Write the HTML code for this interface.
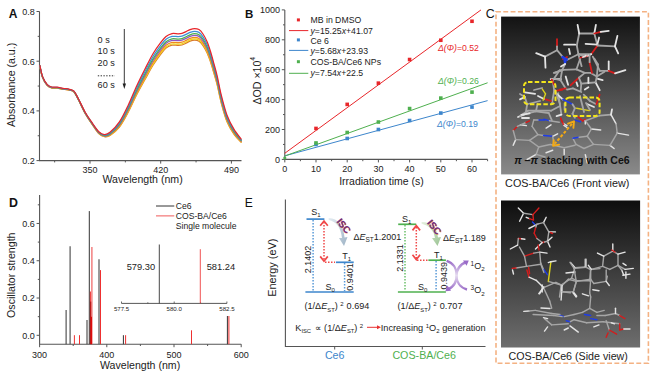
<!DOCTYPE html>
<html><head><meta charset="utf-8"><style>
html,body{margin:0;padding:0;background:#fff;width:656px;height:377px;overflow:hidden}
svg{display:block;font-family:"Liberation Sans", sans-serif}
</style></head><body>
<svg width="656" height="377" viewBox="0 0 656 377">
<rect width="656" height="377" fill="#fff"/>
<text x="8.8" y="17.8" font-size="12" text-anchor="start" fill="#111" font-weight="bold" >A</text>
<path d="M39.5,11.5 V160.6 H241.5" fill="none" stroke="#555" stroke-width="1.1"/>
<line x1="36.5" y1="160.60" x2="39.5" y2="160.60" stroke="#555" stroke-width="1"/>
<text x="34.8" y="163.9" font-size="9" text-anchor="end" fill="#222" font-weight="normal" >0.2</text>
<line x1="36.5" y1="110.90" x2="39.5" y2="110.90" stroke="#555" stroke-width="1"/>
<text x="34.8" y="114.19999999999999" font-size="9" text-anchor="end" fill="#222" font-weight="normal" >0.4</text>
<line x1="36.5" y1="61.20" x2="39.5" y2="61.20" stroke="#555" stroke-width="1"/>
<text x="34.8" y="64.5" font-size="9" text-anchor="end" fill="#222" font-weight="normal" >0.6</text>
<line x1="36.5" y1="11.50" x2="39.5" y2="11.50" stroke="#555" stroke-width="1"/>
<text x="34.8" y="14.799999999999972" font-size="9" text-anchor="end" fill="#222" font-weight="normal" >0.8</text>
<line x1="37.7" y1="135.75" x2="39.5" y2="135.75" stroke="#555" stroke-width="1"/>
<line x1="37.7" y1="86.05" x2="39.5" y2="86.05" stroke="#555" stroke-width="1"/>
<line x1="37.7" y1="36.35" x2="39.5" y2="36.35" stroke="#555" stroke-width="1"/>
<line x1="90.00" y1="160.6" x2="90.00" y2="163.6" stroke="#555" stroke-width="1"/>
<text x="90.0" y="173.3" font-size="9" text-anchor="middle" fill="#222" font-weight="normal" >350</text>
<line x1="160.70" y1="160.6" x2="160.70" y2="163.6" stroke="#555" stroke-width="1"/>
<text x="160.7" y="173.3" font-size="9" text-anchor="middle" fill="#222" font-weight="normal" >420</text>
<line x1="231.40" y1="160.6" x2="231.40" y2="163.6" stroke="#555" stroke-width="1"/>
<text x="231.4" y="173.3" font-size="9" text-anchor="middle" fill="#222" font-weight="normal" >490</text>
<line x1="54.65" y1="160.6" x2="54.65" y2="162.4" stroke="#555" stroke-width="1"/>
<line x1="125.35" y1="160.6" x2="125.35" y2="162.4" stroke="#555" stroke-width="1"/>
<line x1="196.05" y1="160.6" x2="196.05" y2="162.4" stroke="#555" stroke-width="1"/>
<text x="142.6" y="183.3" font-size="10.6" text-anchor="middle" fill="#222" font-weight="normal" >Wavelength (nm)</text>
<text x="0" y="0" font-size="10.6" text-anchor="middle" fill="#222" font-weight="normal" transform="translate(14.6,84.9) rotate(-90)">Absorbance (a.u.)</text>
<path d="M39.80,66.02 C40.25,67.90 41.30,74.12 42.50,77.32 C43.70,80.52 45.50,83.45 47.00,85.22 C48.50,86.98 49.82,87.43 51.50,87.92 C53.18,88.40 55.22,87.88 57.10,88.12 C58.98,88.35 61.32,89.08 62.80,89.32 C64.28,89.55 64.88,89.37 66.00,89.52 C67.12,89.66 68.17,89.80 69.50,90.22 C70.83,90.63 72.50,90.40 74.00,92.02 C75.50,93.63 76.62,96.31 78.50,99.92 C80.38,103.52 83.05,109.64 85.30,113.67 C87.55,117.70 89.75,120.79 92.00,124.10 C94.25,127.41 96.73,131.43 98.80,133.53 C100.87,135.63 102.53,136.38 104.40,136.71 C106.27,137.03 107.50,137.09 110.00,135.49 C112.50,133.88 116.37,130.94 119.40,127.06 C122.43,123.18 125.30,117.63 128.20,112.21 C131.10,106.79 134.00,99.96 136.80,94.52 C139.60,89.07 142.30,84.41 145.00,79.54 C147.70,74.67 150.37,69.53 153.00,65.29 C155.63,61.05 158.63,56.96 160.80,54.09 C162.97,51.22 164.13,49.57 166.00,48.09 C167.87,46.61 170.00,45.64 172.00,45.19 C174.00,44.74 176.33,45.42 178.00,45.39 C179.67,45.36 180.67,45.36 182.00,44.99 C183.33,44.62 184.67,43.82 186.00,43.19 C187.33,42.56 188.58,41.71 190.00,41.19 C191.42,40.67 193.00,40.09 194.50,40.09 C196.00,40.09 197.58,40.27 199.00,41.19 C200.42,42.11 201.67,43.68 203.00,45.59 C204.33,47.50 205.75,49.92 207.00,52.63 C208.25,55.33 209.33,58.34 210.50,61.82 C211.67,65.30 212.88,69.65 214.00,73.51 C215.12,77.37 215.97,79.98 217.20,84.97 C218.43,89.97 219.77,97.38 221.40,103.50 C223.03,109.63 224.92,116.63 227.00,121.71 C229.08,126.80 231.48,130.53 233.90,134.02 C236.32,137.51 240.23,141.22 241.50,142.67" fill="none" stroke="#d9782a" stroke-width="1.25"/>
<path d="M39.80,65.92 C40.25,67.80 41.30,74.02 42.50,77.22 C43.70,80.42 45.50,83.35 47.00,85.12 C48.50,86.89 49.82,87.34 51.50,87.82 C53.18,88.30 55.22,87.79 57.10,88.02 C58.98,88.25 61.32,88.99 62.80,89.22 C64.28,89.45 64.88,89.27 66.00,89.42 C67.12,89.57 68.17,89.70 69.50,90.12 C70.83,90.54 72.50,90.30 74.00,91.92 C75.50,93.54 76.62,96.22 78.50,99.82 C80.38,103.43 83.05,109.53 85.30,113.55 C87.55,117.57 89.75,120.65 92.00,123.95 C94.25,127.24 96.73,131.25 98.80,133.34 C100.87,135.43 102.53,136.19 104.40,136.49 C106.27,136.79 107.50,136.82 110.00,135.16 C112.50,133.50 116.37,130.47 119.40,126.53 C122.43,122.58 125.30,116.97 128.20,111.49 C131.10,106.00 134.00,99.11 136.80,93.61 C139.60,88.10 142.30,83.37 145.00,78.45 C147.70,73.53 150.37,68.35 153.00,64.09 C155.63,59.83 158.63,55.76 160.80,52.89 C162.97,50.03 164.13,48.38 166.00,46.89 C167.87,45.41 170.00,44.44 172.00,43.99 C174.00,43.54 176.33,44.23 178.00,44.19 C179.67,44.16 180.67,44.16 182.00,43.79 C183.33,43.43 184.67,42.63 186.00,41.99 C187.33,41.36 188.58,40.51 190.00,39.99 C191.42,39.48 193.00,38.89 194.50,38.89 C196.00,38.89 197.58,39.08 199.00,39.99 C200.42,40.91 201.67,42.48 203.00,44.39 C204.33,46.31 205.75,48.75 207.00,51.48 C208.25,54.21 209.33,57.25 210.50,60.75 C211.67,64.26 212.88,68.64 214.00,72.53 C215.12,76.42 215.97,79.04 217.20,84.07 C218.43,89.10 219.77,96.54 221.40,102.70 C223.03,108.86 224.92,115.90 227.00,121.04 C229.08,126.18 231.48,129.96 233.90,133.51 C236.32,137.06 240.23,140.87 241.50,142.34" fill="none" stroke="#f2d21a" stroke-width="1.25"/>
<path d="M39.80,65.79 C40.25,67.68 41.30,73.89 42.50,77.09 C43.70,80.29 45.50,83.23 47.00,84.99 C48.50,86.76 49.82,87.21 51.50,87.69 C53.18,88.18 55.22,87.66 57.10,87.89 C58.98,88.13 61.32,88.86 62.80,89.09 C64.28,89.33 64.88,89.14 66.00,89.29 C67.12,89.44 68.17,89.58 69.50,89.99 C70.83,90.41 72.50,90.18 74.00,91.79 C75.50,93.41 76.62,96.10 78.50,99.69 C80.38,103.29 83.05,109.38 85.30,113.39 C87.55,117.40 89.75,120.46 92.00,123.74 C94.25,127.02 96.73,131.01 98.80,133.09 C100.87,135.17 102.53,135.93 104.40,136.20 C106.27,136.47 107.50,136.45 110.00,134.72 C112.50,132.99 116.37,129.85 119.40,125.82 C122.43,121.78 125.30,116.09 128.20,110.52 C131.10,104.95 134.00,97.98 136.80,92.39 C139.60,86.81 142.30,81.98 145.00,77.00 C147.70,72.02 150.37,66.78 153.00,62.50 C155.63,58.21 158.63,54.16 160.80,51.30 C162.97,48.43 164.13,46.78 166.00,45.30 C167.87,43.81 170.00,42.85 172.00,42.40 C174.00,41.95 176.33,42.63 178.00,42.60 C179.67,42.56 180.67,42.56 182.00,42.20 C183.33,41.83 184.67,41.03 186.00,40.40 C187.33,39.76 188.58,38.91 190.00,38.40 C191.42,37.88 193.00,37.30 194.50,37.30 C196.00,37.30 197.58,37.48 199.00,38.40 C200.42,39.31 201.67,40.87 203.00,42.80 C204.33,44.72 205.75,47.19 207.00,49.95 C208.25,52.70 209.33,55.79 210.50,59.33 C211.67,62.88 212.88,67.30 214.00,71.22 C215.12,75.14 215.97,77.79 217.20,82.86 C218.43,87.93 219.77,95.41 221.40,101.62 C223.03,107.84 224.92,114.94 227.00,120.14 C229.08,125.34 231.48,129.21 233.90,132.83 C236.32,136.46 240.23,140.39 241.50,141.90" fill="none" stroke="#f08a1c" stroke-width="1.25"/>
<path d="M39.80,65.64 C40.25,67.52 41.30,73.74 42.50,76.94 C43.70,80.14 45.50,83.07 47.00,84.84 C48.50,86.60 49.82,87.05 51.50,87.54 C53.18,88.02 55.22,87.50 57.10,87.74 C58.98,87.97 61.32,88.70 62.80,88.94 C64.28,89.17 64.88,88.99 66.00,89.14 C67.12,89.29 68.17,89.42 69.50,89.84 C70.83,90.25 72.50,90.02 74.00,91.64 C75.50,93.25 76.62,95.95 78.50,99.54 C80.38,103.13 83.05,109.20 85.30,113.19 C87.55,117.18 89.75,120.22 92.00,123.48 C94.25,126.75 96.73,130.72 98.80,132.78 C100.87,134.83 102.53,135.60 104.40,135.84 C106.27,136.07 107.50,135.99 110.00,134.17 C112.50,132.35 116.37,129.07 119.40,124.93 C122.43,120.79 125.30,114.99 128.20,109.31 C131.10,103.64 134.00,96.56 136.80,90.87 C139.60,85.19 142.30,80.25 145.00,75.19 C147.70,70.12 150.37,64.82 153.00,60.50 C155.63,56.19 158.63,52.17 160.80,49.30 C162.97,46.44 164.13,44.79 166.00,43.30 C167.87,41.82 170.00,40.85 172.00,40.40 C174.00,39.95 176.33,40.64 178.00,40.60 C179.67,40.57 180.67,40.57 182.00,40.20 C183.33,39.84 184.67,39.04 186.00,38.40 C187.33,37.77 188.58,36.92 190.00,36.40 C191.42,35.89 193.00,35.30 194.50,35.30 C196.00,35.30 197.58,35.49 199.00,36.40 C200.42,37.32 201.67,38.86 203.00,40.80 C204.33,42.74 205.75,45.24 207.00,48.03 C208.25,50.82 209.33,53.97 210.50,57.56 C211.67,61.15 212.88,65.62 214.00,69.58 C215.12,73.55 215.97,76.23 217.20,81.35 C218.43,86.47 219.77,94.00 221.40,100.28 C223.03,106.56 224.92,113.74 227.00,119.02 C229.08,124.31 231.48,128.26 233.90,131.99 C236.32,135.71 240.23,139.80 241.50,141.36" fill="none" stroke="#9057c0" stroke-width="1.25"/>
<path d="M39.80,65.51 C40.25,67.39 41.30,73.61 42.50,76.81 C43.70,80.01 45.50,82.94 47.00,84.71 C48.50,86.48 49.82,86.93 51.50,87.41 C53.18,87.89 55.22,87.38 57.10,87.61 C58.98,87.84 61.32,88.58 62.80,88.81 C64.28,89.04 64.88,88.86 66.00,89.01 C67.12,89.16 68.17,89.29 69.50,89.71 C70.83,90.13 72.50,89.89 74.00,91.51 C75.50,93.13 76.62,95.82 78.50,99.41 C80.38,103.00 83.05,109.05 85.30,113.03 C87.55,117.00 89.75,120.02 92.00,123.27 C94.25,126.52 96.73,130.48 98.80,132.52 C100.87,134.57 102.53,135.34 104.40,135.55 C106.27,135.75 107.50,135.62 110.00,133.73 C112.50,131.84 116.37,128.45 119.40,124.22 C122.43,119.99 125.30,114.11 128.20,108.35 C131.10,102.59 134.00,95.43 136.80,89.66 C139.60,83.89 142.30,78.86 145.00,73.73 C147.70,68.61 150.37,63.24 153.00,58.91 C155.63,54.57 158.63,50.57 160.80,47.71 C162.97,44.84 164.13,43.19 166.00,41.71 C167.87,40.22 170.00,39.26 172.00,38.81 C174.00,38.36 176.33,39.04 178.00,39.01 C179.67,38.97 180.67,38.97 182.00,38.61 C183.33,38.24 184.67,37.44 186.00,36.81 C187.33,36.17 188.58,35.32 190.00,34.81 C191.42,34.29 193.00,33.71 194.50,33.71 C196.00,33.71 197.58,33.89 199.00,34.81 C200.42,35.72 201.67,37.26 203.00,39.21 C204.33,41.15 205.75,43.68 207.00,46.50 C208.25,49.32 209.33,52.51 210.50,56.14 C211.67,59.76 212.88,64.27 214.00,68.27 C215.12,72.27 215.97,74.99 217.20,80.14 C218.43,85.30 219.77,92.88 221.40,99.21 C223.03,105.54 224.92,112.77 227.00,118.13 C229.08,123.48 231.48,127.51 233.90,131.31 C236.32,135.11 240.23,139.32 241.50,140.92" fill="none" stroke="#4fb04f" stroke-width="1.25"/>
<path d="M39.80,65.32 C40.25,67.20 41.30,73.42 42.50,76.62 C43.70,79.82 45.50,82.75 47.00,84.52 C48.50,86.29 49.82,86.74 51.50,87.22 C53.18,87.70 55.22,87.19 57.10,87.42 C58.98,87.65 61.32,88.39 62.80,88.62 C64.28,88.85 64.88,88.67 66.00,88.82 C67.12,88.97 68.17,89.10 69.50,89.52 C70.83,89.94 72.50,89.70 74.00,91.32 C75.50,92.94 76.62,95.64 78.50,99.22 C80.38,102.80 83.05,108.83 85.30,112.78 C87.55,116.74 89.75,119.74 92.00,122.96 C94.25,126.19 96.73,130.12 98.80,132.14 C100.87,134.17 102.53,134.95 104.40,135.11 C106.27,135.26 107.50,135.06 110.00,133.07 C112.50,131.07 116.37,127.51 119.40,123.14 C122.43,118.78 125.30,112.78 128.20,106.89 C131.10,101.00 134.00,93.72 136.80,87.82 C139.60,81.93 142.30,76.76 145.00,71.54 C147.70,66.32 150.37,60.87 153.00,56.49 C155.63,52.12 158.63,48.16 160.80,45.29 C162.97,42.43 164.13,40.78 166.00,39.29 C167.87,37.81 170.00,36.84 172.00,36.39 C174.00,35.94 176.33,36.63 178.00,36.59 C179.67,36.56 180.67,36.56 182.00,36.19 C183.33,35.83 184.67,35.03 186.00,34.39 C187.33,33.76 188.58,32.91 190.00,32.39 C191.42,31.88 193.00,31.29 194.50,31.29 C196.00,31.29 197.58,31.48 199.00,32.39 C200.42,33.31 201.67,34.83 203.00,36.79 C204.33,38.76 205.75,41.32 207.00,44.18 C208.25,47.05 209.33,50.30 210.50,53.99 C211.67,57.67 212.88,62.24 214.00,66.29 C215.12,70.35 215.97,73.10 217.20,78.31 C218.43,83.53 219.77,91.17 221.40,97.58 C223.03,103.99 224.92,111.32 227.00,116.77 C229.08,122.22 231.48,126.37 233.90,130.29 C236.32,134.20 240.23,138.60 241.50,140.26" fill="none" stroke="#3d8fd6" stroke-width="1.25"/>
<path d="M39.80,65.10 C40.25,66.98 41.30,73.20 42.50,76.40 C43.70,79.60 45.50,82.53 47.00,84.30 C48.50,86.07 49.82,86.52 51.50,87.00 C53.18,87.48 55.22,86.97 57.10,87.20 C58.98,87.43 61.32,88.17 62.80,88.40 C64.28,88.63 64.88,88.45 66.00,88.60 C67.12,88.75 68.17,88.88 69.50,89.30 C70.83,89.72 72.50,89.48 74.00,91.10 C75.50,92.72 76.62,95.43 78.50,99.00 C80.38,102.57 83.05,108.57 85.30,112.50 C87.55,116.43 89.75,119.40 92.00,122.60 C94.25,125.80 96.73,129.70 98.80,131.70 C100.87,133.70 102.53,134.50 104.40,134.60 C106.27,134.70 107.50,134.42 110.00,132.30 C112.50,130.18 116.37,126.42 119.40,121.90 C122.43,117.38 125.30,111.23 128.20,105.20 C131.10,99.17 134.00,91.73 136.80,85.70 C139.60,79.67 142.30,74.33 145.00,69.00 C147.70,63.67 150.37,58.12 153.00,53.70 C155.63,49.28 158.63,45.37 160.80,42.50 C162.97,39.63 164.13,37.98 166.00,36.50 C167.87,35.02 170.00,34.05 172.00,33.60 C174.00,33.15 176.33,33.83 178.00,33.80 C179.67,33.77 180.67,33.77 182.00,33.40 C183.33,33.03 184.67,32.23 186.00,31.60 C187.33,30.97 188.58,30.12 190.00,29.60 C191.42,29.08 193.00,28.50 194.50,28.50 C196.00,28.50 197.58,28.68 199.00,29.60 C200.42,30.52 201.67,32.02 203.00,34.00 C204.33,35.98 205.75,38.58 207.00,41.50 C208.25,44.42 209.33,47.75 210.50,51.50 C211.67,55.25 212.88,59.88 214.00,64.00 C215.12,68.12 215.97,70.92 217.20,76.20 C218.43,81.48 219.77,89.20 221.40,95.70 C223.03,102.20 224.92,109.63 227.00,115.20 C229.08,120.77 231.48,125.05 233.90,129.10 C236.32,133.15 240.23,137.77 241.50,139.50" fill="none" stroke="#e8262a" stroke-width="1.25"/>
<text x="97.6" y="42.599999999999994" font-size="9.1" text-anchor="start" fill="#222" font-weight="normal" >0 s</text>
<text x="97.6" y="54.199999999999996" font-size="9.1" text-anchor="start" fill="#222" font-weight="normal" >10 s</text>
<text x="97.6" y="65.5" font-size="9.1" text-anchor="start" fill="#222" font-weight="normal" >20 s</text>
<text x="97.6" y="88.0" font-size="9.1" text-anchor="start" fill="#222" font-weight="normal" >60 s</text>
<line x1="97.8" y1="75.8" x2="114.8" y2="75.8" stroke="#333" stroke-width="1" stroke-dasharray="1.4,1.4"/>
<line x1="124.3" y1="29" x2="124.3" y2="84" stroke="#222" stroke-width="0.9"/>
<path d="M122.6,83.5 L124.3,89 L126,83.5 Z" fill="#222"/>
<text x="245" y="17.8" font-size="11.5" text-anchor="start" fill="#111" font-weight="bold" >B</text>
<path d="M284.8,9.9 V159.4 H487.60" fill="none" stroke="#555" stroke-width="1.1"/>
<line x1="281.8" y1="159.40" x2="284.8" y2="159.40" stroke="#555" stroke-width="1"/>
<text x="280" y="162.70000000000002" font-size="9" text-anchor="end" fill="#222" font-weight="normal" >0</text>
<line x1="281.8" y1="129.50" x2="284.8" y2="129.50" stroke="#555" stroke-width="1"/>
<text x="280" y="132.8" font-size="9" text-anchor="end" fill="#222" font-weight="normal" >200</text>
<line x1="281.8" y1="99.60" x2="284.8" y2="99.60" stroke="#555" stroke-width="1"/>
<text x="280" y="102.9" font-size="9" text-anchor="end" fill="#222" font-weight="normal" >400</text>
<line x1="281.8" y1="69.70" x2="284.8" y2="69.70" stroke="#555" stroke-width="1"/>
<text x="280" y="73.0" font-size="9" text-anchor="end" fill="#222" font-weight="normal" >600</text>
<line x1="281.8" y1="39.80" x2="284.8" y2="39.80" stroke="#555" stroke-width="1"/>
<text x="280" y="43.10000000000001" font-size="9" text-anchor="end" fill="#222" font-weight="normal" >800</text>
<line x1="281.8" y1="9.90" x2="284.8" y2="9.90" stroke="#555" stroke-width="1"/>
<text x="280" y="13.200000000000006" font-size="9" text-anchor="end" fill="#222" font-weight="normal" >1000</text>
<line x1="283.0" y1="144.45" x2="284.8" y2="144.45" stroke="#555" stroke-width="1"/>
<line x1="283.0" y1="114.55" x2="284.8" y2="114.55" stroke="#555" stroke-width="1"/>
<line x1="283.0" y1="84.65" x2="284.8" y2="84.65" stroke="#555" stroke-width="1"/>
<line x1="283.0" y1="54.75" x2="284.8" y2="54.75" stroke="#555" stroke-width="1"/>
<line x1="283.0" y1="24.85" x2="284.8" y2="24.85" stroke="#555" stroke-width="1"/>
<line x1="284.80" y1="159.4" x2="284.80" y2="162.4" stroke="#555" stroke-width="1"/>
<text x="284.8" y="171.5" font-size="9" text-anchor="middle" fill="#222" font-weight="normal" >0</text>
<line x1="316.00" y1="159.4" x2="316.00" y2="162.4" stroke="#555" stroke-width="1"/>
<text x="316.0" y="171.5" font-size="9" text-anchor="middle" fill="#222" font-weight="normal" >10</text>
<line x1="347.20" y1="159.4" x2="347.20" y2="162.4" stroke="#555" stroke-width="1"/>
<text x="347.20000000000005" y="171.5" font-size="9" text-anchor="middle" fill="#222" font-weight="normal" >20</text>
<line x1="378.40" y1="159.4" x2="378.40" y2="162.4" stroke="#555" stroke-width="1"/>
<text x="378.40000000000003" y="171.5" font-size="9" text-anchor="middle" fill="#222" font-weight="normal" >30</text>
<line x1="409.60" y1="159.4" x2="409.60" y2="162.4" stroke="#555" stroke-width="1"/>
<text x="409.6" y="171.5" font-size="9" text-anchor="middle" fill="#222" font-weight="normal" >40</text>
<line x1="440.80" y1="159.4" x2="440.80" y2="162.4" stroke="#555" stroke-width="1"/>
<text x="440.8" y="171.5" font-size="9" text-anchor="middle" fill="#222" font-weight="normal" >50</text>
<line x1="472.00" y1="159.4" x2="472.00" y2="162.4" stroke="#555" stroke-width="1"/>
<text x="472.0" y="171.5" font-size="9" text-anchor="middle" fill="#222" font-weight="normal" >60</text>
<line x1="300.40" y1="159.4" x2="300.40" y2="161.20000000000002" stroke="#555" stroke-width="1"/>
<line x1="331.60" y1="159.4" x2="331.60" y2="161.20000000000002" stroke="#555" stroke-width="1"/>
<line x1="362.80" y1="159.4" x2="362.80" y2="161.20000000000002" stroke="#555" stroke-width="1"/>
<line x1="394.00" y1="159.4" x2="394.00" y2="161.20000000000002" stroke="#555" stroke-width="1"/>
<line x1="425.20" y1="159.4" x2="425.20" y2="161.20000000000002" stroke="#555" stroke-width="1"/>
<line x1="456.40" y1="159.4" x2="456.40" y2="161.20000000000002" stroke="#555" stroke-width="1"/>
<line x1="487.60" y1="159.4" x2="487.60" y2="161.20000000000002" stroke="#555" stroke-width="1"/>
<text x="381.5" y="184.6" font-size="10.5" text-anchor="middle" fill="#222" font-weight="normal" >Irradiation time (s)</text>
<text x="0" y="0" font-size="10.6" text-anchor="middle" fill="#222" font-weight="normal" transform="translate(260.5,80.7) rotate(-90)">ΔOD ×10<tspan font-size="6.8" dy="-5.5">4</tspan></text>
<line x1="284.80" y1="153.26" x2="480.99" y2="9.90" stroke="#e8262a" stroke-width="1"/>
<line x1="284.80" y1="155.82" x2="487.60" y2="100.63" stroke="#3d86cc" stroke-width="1"/>
<line x1="284.80" y1="156.04" x2="487.60" y2="82.77" stroke="#4fb04f" stroke-width="1"/>
<rect x="314.20" y="142.65" width="3.6" height="3.6" fill="#3d86cc"/>
<rect x="345.40" y="136.67" width="3.6" height="3.6" fill="#3d86cc"/>
<rect x="376.60" y="127.70" width="3.6" height="3.6" fill="#3d86cc"/>
<rect x="407.80" y="118.73" width="3.6" height="3.6" fill="#3d86cc"/>
<rect x="439.00" y="111.26" width="3.6" height="3.6" fill="#3d86cc"/>
<rect x="470.20" y="105.28" width="3.6" height="3.6" fill="#3d86cc"/>
<rect x="283.40" y="156.80" width="2.8" height="2.6" fill="#4fb04f"/>
<rect x="314.20" y="141.16" width="3.6" height="3.6" fill="#4fb04f"/>
<rect x="345.40" y="130.69" width="3.6" height="3.6" fill="#4fb04f"/>
<rect x="376.60" y="120.23" width="3.6" height="3.6" fill="#4fb04f"/>
<rect x="407.80" y="106.77" width="3.6" height="3.6" fill="#4fb04f"/>
<rect x="439.00" y="96.31" width="3.6" height="3.6" fill="#4fb04f"/>
<rect x="470.20" y="90.33" width="3.6" height="3.6" fill="#4fb04f"/>
<rect x="314.20" y="126.65" width="3.6" height="3.6" fill="#e8262a"/>
<rect x="345.40" y="102.58" width="3.6" height="3.6" fill="#e8262a"/>
<rect x="376.60" y="81.36" width="3.6" height="3.6" fill="#e8262a"/>
<rect x="407.80" y="57.73" width="3.6" height="3.6" fill="#e8262a"/>
<rect x="439.00" y="38.45" width="3.6" height="3.6" fill="#e8262a"/>
<rect x="470.20" y="19.46" width="3.6" height="3.6" fill="#e8262a"/>
<rect x="296.9" y="18.4" width="3" height="3" fill="#e8262a"/>
<rect x="296.9" y="38.4" width="3" height="3" fill="#3d86cc"/>
<rect x="296.9" y="60.2" width="3" height="3" fill="#4fb04f"/>
<line x1="289" y1="30.6" x2="308.3" y2="30.6" stroke="#e8262a" stroke-width="1"/>
<line x1="289" y1="50.4" x2="308.3" y2="50.4" stroke="#3d86cc" stroke-width="1"/>
<line x1="289" y1="73.3" x2="308.3" y2="73.3" stroke="#4fb04f" stroke-width="1"/>
<text x="310.5" y="23.2" font-size="8.7" text-anchor="start" fill="#222" font-weight="normal" >MB in DMSO</text>
<text x="310.5" y="34.0" font-size="8.7" text-anchor="start" fill="#222" font-weight="normal" ><tspan font-style="italic">y</tspan>=15.25<tspan font-style="italic">x</tspan>+41.07</text>
<text x="310.5" y="43.5" font-size="8.7" text-anchor="start" fill="#222" font-weight="normal" >Ce 6</text>
<text x="310.5" y="53.7" font-size="8.7" text-anchor="start" fill="#222" font-weight="normal" ><tspan font-style="italic">y</tspan>=5.68<tspan font-style="italic">x</tspan>+23.93</text>
<text x="310.5" y="65.0" font-size="8.7" text-anchor="start" fill="#222" font-weight="normal" >COS-BA/Ce6 NPs</text>
<text x="310.5" y="76.3" font-size="8.7" text-anchor="start" fill="#222" font-weight="normal" ><tspan font-style="italic">y</tspan>=7.54<tspan font-style="italic">x</tspan>+22.5</text>
<text x="438" y="51.2" font-size="8.7" text-anchor="start" fill="#e8262a" font-weight="normal" ><tspan font-style="italic">Δ(Φ)</tspan>=0.52</text>
<text x="438" y="83.9" font-size="8.7" text-anchor="start" fill="#4fb04f" font-weight="normal" ><tspan font-style="italic">Δ(Φ)</tspan>=0.26</text>
<text x="437" y="126.5" font-size="8.7" text-anchor="start" fill="#3d86cc" font-weight="normal" ><tspan font-style="italic">Δ(Φ)</tspan>=0.19</text>
<text x="485.8" y="18.4" font-size="12.4" text-anchor="start" fill="#111" font-weight="normal" >C</text>
<rect x="496" y="11.8" width="152.4" height="351.4" fill="none" stroke="#f4b283" stroke-width="1.6" stroke-dasharray="4.9,2.4"/>
<defs><linearGradient id="gC" x1="0" y1="0" x2="0" y2="1"><stop offset="0" stop-color="#131313"/><stop offset="1" stop-color="#8a8a8a"/></linearGradient><linearGradient id="gS" x1="0" y1="0" x2="0" y2="1"><stop offset="0" stop-color="#0e0e0e"/><stop offset="1" stop-color="#6e6e6e"/></linearGradient></defs>
<rect x="501.1" y="16.6" width="138.8" height="157.8" fill="url(#gC)"/>
<rect x="501" y="200.5" width="139.1" height="147" fill="url(#gS)"/>
<line x1="553.8" y1="72.9" x2="563.1" y2="69.8" stroke="#a6a6a6" stroke-width="1.8" stroke-linecap="round"/>
<line x1="550.7" y1="79.1" x2="561" y2="79.1" stroke="#e4e4e4" stroke-width="1.8" stroke-linecap="round"/>
<line x1="563" y1="59" x2="567" y2="57" stroke="#d41c1c" stroke-width="1.8" stroke-linecap="round"/>
<line x1="552.6" y1="79.6" x2="554.2" y2="90.7" stroke="#a6a6a6" stroke-width="1.8" stroke-linecap="round"/>
<line x1="554.2" y1="90.7" x2="551.8" y2="104.2" stroke="#a6a6a6" stroke-width="1.8" stroke-linecap="round"/>
<line x1="558.2" y1="93.1" x2="561.4" y2="114.6" stroke="#a6a6a6" stroke-width="1.8" stroke-linecap="round"/>
<line x1="561.4" y1="114.6" x2="556.6" y2="116.2" stroke="#e4e4e4" stroke-width="1.8" stroke-linecap="round"/>
<line x1="564.6" y1="103.4" x2="564.6" y2="109.8" stroke="#a6a6a6" stroke-width="1.8" stroke-linecap="round"/>
<line x1="534" y1="90" x2="542" y2="88" stroke="#a6a6a6" stroke-width="1.8" stroke-linecap="round"/>
<line x1="538" y1="96" x2="544" y2="99" stroke="#e4e4e4" stroke-width="1.8" stroke-linecap="round"/>
<line x1="528" y1="104" x2="540" y2="101" stroke="#a6a6a6" stroke-width="1.8" stroke-linecap="round"/>
<line x1="587" y1="104" x2="594" y2="107" stroke="#e4e4e4" stroke-width="1.8" stroke-linecap="round"/>
<line x1="586" y1="103" x2="590" y2="110" stroke="#a6a6a6" stroke-width="1.8" stroke-linecap="round"/>
<line x1="557" y1="39.1" x2="557" y2="46.3" stroke="#d41c1c" stroke-width="1.8" stroke-linecap="round"/>
<line x1="557" y1="46.3" x2="557" y2="50.2" stroke="#a6a6a6" stroke-width="1.8" stroke-linecap="round"/>
<line x1="557" y1="50.2" x2="545" y2="56.6" stroke="#a6a6a6" stroke-width="1.8" stroke-linecap="round"/>
<line x1="545" y1="56.6" x2="536.2" y2="53.2" stroke="#e4e4e4" stroke-width="1.8" stroke-linecap="round"/>
<line x1="545" y1="56.6" x2="545.5" y2="67.7" stroke="#e4e4e4" stroke-width="1.8" stroke-linecap="round"/>
<line x1="557" y1="50.2" x2="562.5" y2="56.6" stroke="#a6a6a6" stroke-width="1.8" stroke-linecap="round"/>
<line x1="562.5" y1="56.6" x2="567.3" y2="59.8" stroke="#1e3ce8" stroke-width="1.8" stroke-linecap="round"/>
<line x1="564" y1="58" x2="565" y2="64" stroke="#1e3ce8" stroke-width="1.8" stroke-linecap="round"/>
<line x1="567.3" y1="59.8" x2="578.4" y2="54.2" stroke="#a6a6a6" stroke-width="1.8" stroke-linecap="round"/>
<line x1="569" y1="49" x2="570" y2="54" stroke="#e4e4e4" stroke-width="1.8" stroke-linecap="round"/>
<line x1="579.2" y1="33.5" x2="594.3" y2="33.5" stroke="#a6a6a6" stroke-width="1.8" stroke-linecap="round"/>
<line x1="594.3" y1="33.5" x2="597.5" y2="45.5" stroke="#a6a6a6" stroke-width="1.8" stroke-linecap="round"/>
<line x1="597.5" y1="45.5" x2="591.2" y2="54.2" stroke="#d41c1c" stroke-width="1.8" stroke-linecap="round"/>
<line x1="591.2" y1="54.2" x2="578.4" y2="54.2" stroke="#a6a6a6" stroke-width="1.8" stroke-linecap="round"/>
<line x1="578.4" y1="54.2" x2="576.8" y2="45.5" stroke="#a6a6a6" stroke-width="1.8" stroke-linecap="round"/>
<line x1="576.8" y1="45.5" x2="579.2" y2="33.5" stroke="#a6a6a6" stroke-width="1.8" stroke-linecap="round"/>
<line x1="577.6" y1="24.8" x2="579.2" y2="33.5" stroke="#e4e4e4" stroke-width="1.8" stroke-linecap="round"/>
<line x1="595.9" y1="24.8" x2="594.3" y2="33.5" stroke="#e4e4e4" stroke-width="1.8" stroke-linecap="round"/>
<line x1="594.3" y1="33.5" x2="600.7" y2="31.9" stroke="#d41c1c" stroke-width="1.8" stroke-linecap="round"/>
<line x1="600.7" y1="31.9" x2="608.7" y2="30.8" stroke="#e4e4e4" stroke-width="1.8" stroke-linecap="round"/>
<line x1="564.1" y1="44.7" x2="575.2" y2="44.7" stroke="#e4e4e4" stroke-width="1.8" stroke-linecap="round"/>
<line x1="585.6" y1="43.9" x2="597.5" y2="44.7" stroke="#e4e4e4" stroke-width="1.8" stroke-linecap="round"/>
<line x1="599.1" y1="37.5" x2="597.5" y2="43.9" stroke="#e4e4e4" stroke-width="1.8" stroke-linecap="round"/>
<line x1="597.5" y1="45.5" x2="615" y2="46.3" stroke="#a6a6a6" stroke-width="1.8" stroke-linecap="round"/>
<line x1="615" y1="46.3" x2="617.4" y2="35.9" stroke="#e4e4e4" stroke-width="1.8" stroke-linecap="round"/>
<line x1="615" y1="46.3" x2="618.2" y2="53.4" stroke="#e4e4e4" stroke-width="1.8" stroke-linecap="round"/>
<line x1="578.4" y1="54.2" x2="584.8" y2="56.6" stroke="#a6a6a6" stroke-width="1.8" stroke-linecap="round"/>
<line x1="584.8" y1="56.6" x2="588" y2="55.8" stroke="#d41c1c" stroke-width="1.8" stroke-linecap="round"/>
<line x1="588" y1="55.8" x2="591.2" y2="54.2" stroke="#e4e4e4" stroke-width="1.8" stroke-linecap="round"/>
<line x1="578.4" y1="54.2" x2="581.6" y2="66.2" stroke="#a6a6a6" stroke-width="1.8" stroke-linecap="round"/>
<line x1="592.8" y1="56.6" x2="599.9" y2="70.9" stroke="#a6a6a6" stroke-width="1.8" stroke-linecap="round"/>
<line x1="599.9" y1="70.9" x2="608.7" y2="70.9" stroke="#a6a6a6" stroke-width="1.8" stroke-linecap="round"/>
<line x1="608.7" y1="61.4" x2="608.7" y2="70.9" stroke="#e4e4e4" stroke-width="1.8" stroke-linecap="round"/>
<line x1="608.7" y1="70.9" x2="615" y2="73.3" stroke="#d41c1c" stroke-width="1.8" stroke-linecap="round"/>
<line x1="615" y1="73.3" x2="625.4" y2="70.1" stroke="#e4e4e4" stroke-width="1.8" stroke-linecap="round"/>
<line x1="553.4" y1="79.6" x2="559.8" y2="70" stroke="#a6a6a6" stroke-width="1.8" stroke-linecap="round"/>
<line x1="556.6" y1="90.7" x2="562.2" y2="89.9" stroke="#d41c1c" stroke-width="1.8" stroke-linecap="round"/>
<line x1="551.8" y1="79.6" x2="554.2" y2="84.7" stroke="#d41c1c" stroke-width="1.8" stroke-linecap="round"/>
<line x1="542.3" y1="89.1" x2="545.5" y2="93.9" stroke="#dcd21c" stroke-width="1.4" stroke-linecap="round"/>
<line x1="545.5" y1="93.9" x2="543.1" y2="100.2" stroke="#dcd21c" stroke-width="1.4" stroke-linecap="round"/>
<line x1="524.8" y1="92.3" x2="535.1" y2="93.9" stroke="#e4e4e4" stroke-width="1.8" stroke-linecap="round"/>
<line x1="520" y1="93.9" x2="524.8" y2="97" stroke="#a6a6a6" stroke-width="1.8" stroke-linecap="round"/>
<line x1="524.8" y1="97" x2="527.2" y2="104.2" stroke="#a6a6a6" stroke-width="1.8" stroke-linecap="round"/>
<line x1="524.8" y1="97" x2="520" y2="99.4" stroke="#e4e4e4" stroke-width="1.8" stroke-linecap="round"/>
<line x1="527.2" y1="104.2" x2="525.6" y2="113.8" stroke="#a6a6a6" stroke-width="1.8" stroke-linecap="round"/>
<line x1="525.6" y1="113.8" x2="518" y2="117" stroke="#e4e4e4" stroke-width="1.8" stroke-linecap="round"/>
<line x1="525.6" y1="113.8" x2="535.9" y2="111.4" stroke="#a6a6a6" stroke-width="1.8" stroke-linecap="round"/>
<line x1="535.9" y1="111.4" x2="548.7" y2="113" stroke="#a6a6a6" stroke-width="1.8" stroke-linecap="round"/>
<line x1="535.9" y1="111.4" x2="537.5" y2="104.2" stroke="#a6a6a6" stroke-width="1.8" stroke-linecap="round"/>
<line x1="548.7" y1="113" x2="551.8" y2="120.1" stroke="#a6a6a6" stroke-width="1.8" stroke-linecap="round"/>
<line x1="543.9" y1="119.3" x2="550.2" y2="120.9" stroke="#1e3ce8" stroke-width="1.45" stroke-linecap="round"/>
<line x1="545.5" y1="99.4" x2="551" y2="101" stroke="#d41c1c" stroke-width="1.8" stroke-linecap="round"/>
<line x1="556.6" y1="93.9" x2="563" y2="99.5" stroke="#e4e4e4" stroke-width="1.8" stroke-linecap="round"/>
<line x1="563" y1="99.5" x2="572.5" y2="104.2" stroke="#1e3ce8" stroke-width="1.8" stroke-linecap="round"/>
<line x1="572.5" y1="104.2" x2="574.9" y2="108.2" stroke="#a6a6a6" stroke-width="1.8" stroke-linecap="round"/>
<line x1="576.5" y1="108.2" x2="589.2" y2="110.6" stroke="#dcd21c" stroke-width="1.4" stroke-linecap="round"/>
<line x1="574.9" y1="108.2" x2="572.5" y2="113.8" stroke="#a6a6a6" stroke-width="1.8" stroke-linecap="round"/>
<line x1="572.5" y1="113.8" x2="574.9" y2="117.8" stroke="#a6a6a6" stroke-width="1.8" stroke-linecap="round"/>
<line x1="574.9" y1="120.1" x2="580.5" y2="121.7" stroke="#1e3ce8" stroke-width="1.45" stroke-linecap="round"/>
<line x1="577.3" y1="116.2" x2="582.9" y2="120.9" stroke="#d41c1c" stroke-width="1.45" stroke-linecap="round"/>
<line x1="582.9" y1="120.9" x2="585.3" y2="119.3" stroke="#d41c1c" stroke-width="1.45" stroke-linecap="round"/>
<line x1="560.6" y1="117.8" x2="563" y2="123.3" stroke="#d41c1c" stroke-width="1.45" stroke-linecap="round"/>
<line x1="563" y1="123.3" x2="567" y2="125.6" stroke="#e4e4e4" stroke-width="1.45" stroke-linecap="round"/>
<line x1="583.7" y1="94.7" x2="590" y2="101" stroke="#a6a6a6" stroke-width="1.8" stroke-linecap="round"/>
<line x1="590" y1="101" x2="596.4" y2="104.2" stroke="#a6a6a6" stroke-width="1.8" stroke-linecap="round"/>
<line x1="596.4" y1="104.2" x2="599.6" y2="94.7" stroke="#d41c1c" stroke-width="1.8" stroke-linecap="round"/>
<line x1="528" y1="110.7" x2="551" y2="110.7" stroke="#a6a6a6" stroke-width="1.8" stroke-linecap="round"/>
<line x1="551" y1="110.7" x2="560" y2="106" stroke="#a6a6a6" stroke-width="1.8" stroke-linecap="round"/>
<line x1="555" y1="90" x2="560" y2="104" stroke="#a6a6a6" stroke-width="1.8" stroke-linecap="round"/>
<line x1="580" y1="96" x2="584" y2="112" stroke="#a6a6a6" stroke-width="1.8" stroke-linecap="round"/>
<line x1="520" y1="116" x2="528" y2="110.7" stroke="#a6a6a6" stroke-width="1.8" stroke-linecap="round"/>
<line x1="513.2" y1="130.5" x2="517.3" y2="126.4" stroke="#d41c1c" stroke-width="1.45" stroke-linecap="round"/>
<line x1="517.3" y1="126.4" x2="520.6" y2="124.8" stroke="#a6a6a6" stroke-width="1.45" stroke-linecap="round"/>
<line x1="520.6" y1="124.8" x2="526.4" y2="125.6" stroke="#e4e4e4" stroke-width="1.45" stroke-linecap="round"/>
<line x1="520.6" y1="124.8" x2="526" y2="122.5" stroke="#a6a6a6" stroke-width="1.45" stroke-linecap="round"/>
<line x1="526" y1="122.5" x2="529.5" y2="120.8" stroke="#d41c1c" stroke-width="1.45" stroke-linecap="round"/>
<line x1="513.2" y1="130.5" x2="515.7" y2="139.6" stroke="#a6a6a6" stroke-width="1.45" stroke-linecap="round"/>
<line x1="515.7" y1="139.6" x2="513.2" y2="145.3" stroke="#e4e4e4" stroke-width="1.45" stroke-linecap="round"/>
<line x1="515.7" y1="139.6" x2="529.6" y2="140.4" stroke="#a6a6a6" stroke-width="1.45" stroke-linecap="round"/>
<line x1="529.6" y1="140.4" x2="537.9" y2="134.6" stroke="#a6a6a6" stroke-width="1.45" stroke-linecap="round"/>
<line x1="537.9" y1="134.6" x2="532.1" y2="126.4" stroke="#a6a6a6" stroke-width="1.45" stroke-linecap="round"/>
<line x1="532.1" y1="126.4" x2="533.8" y2="119.9" stroke="#a6a6a6" stroke-width="1.45" stroke-linecap="round"/>
<line x1="538" y1="119.9" x2="544.4" y2="119.9" stroke="#1e3ce8" stroke-width="1.45" stroke-linecap="round"/>
<line x1="533.8" y1="119.9" x2="538" y2="119.9" stroke="#a6a6a6" stroke-width="1.45" stroke-linecap="round"/>
<line x1="549.4" y1="120.7" x2="559.2" y2="122.3" stroke="#a6a6a6" stroke-width="1.45" stroke-linecap="round"/>
<line x1="546.1" y1="128.1" x2="551" y2="124.8" stroke="#e4e4e4" stroke-width="1.45" stroke-linecap="round"/>
<line x1="537.9" y1="134.6" x2="543.6" y2="135.5" stroke="#a6a6a6" stroke-width="1.45" stroke-linecap="round"/>
<line x1="543.6" y1="135.5" x2="552.7" y2="136.3" stroke="#1e3ce8" stroke-width="1.45" stroke-linecap="round"/>
<line x1="552.7" y1="136.3" x2="557.6" y2="133.8" stroke="#e4e4e4" stroke-width="1.45" stroke-linecap="round"/>
<line x1="552.7" y1="136.3" x2="554.3" y2="145.3" stroke="#a6a6a6" stroke-width="1.45" stroke-linecap="round"/>
<line x1="529.6" y1="140.4" x2="538.7" y2="147" stroke="#a6a6a6" stroke-width="1.45" stroke-linecap="round"/>
<line x1="538.7" y1="147" x2="550.2" y2="144.5" stroke="#a6a6a6" stroke-width="1.45" stroke-linecap="round"/>
<line x1="550.2" y1="144.5" x2="554.3" y2="145.3" stroke="#a6a6a6" stroke-width="1.45" stroke-linecap="round"/>
<line x1="538.7" y1="147" x2="536.2" y2="154.4" stroke="#a6a6a6" stroke-width="1.45" stroke-linecap="round"/>
<line x1="536.2" y1="154.4" x2="527.2" y2="159.3" stroke="#e4e4e4" stroke-width="1.45" stroke-linecap="round"/>
<line x1="546.1" y1="152.7" x2="552.7" y2="150.3" stroke="#e4e4e4" stroke-width="1.45" stroke-linecap="round"/>
<line x1="536.2" y1="154.4" x2="545" y2="157" stroke="#a6a6a6" stroke-width="1.45" stroke-linecap="round"/>
<line x1="554.3" y1="145.3" x2="564.2" y2="147.8" stroke="#a6a6a6" stroke-width="1.45" stroke-linecap="round"/>
<line x1="564.2" y1="147.8" x2="575" y2="145.3" stroke="#a6a6a6" stroke-width="1.45" stroke-linecap="round"/>
<line x1="564.2" y1="149.4" x2="564.2" y2="154.4" stroke="#e4e4e4" stroke-width="1.45" stroke-linecap="round"/>
<line x1="521.4" y1="114.9" x2="529.6" y2="113.3" stroke="#e4e4e4" stroke-width="1.8" stroke-linecap="round"/>
<line x1="576" y1="144.4" x2="572.9" y2="138.2" stroke="#a6a6a6" stroke-width="1.45" stroke-linecap="round"/>
<line x1="572.9" y1="138.2" x2="579.1" y2="137.2" stroke="#1e3ce8" stroke-width="1.45" stroke-linecap="round"/>
<line x1="579.1" y1="137.2" x2="587.3" y2="136.2" stroke="#a6a6a6" stroke-width="1.45" stroke-linecap="round"/>
<line x1="587.3" y1="136.2" x2="591.4" y2="129" stroke="#a6a6a6" stroke-width="1.45" stroke-linecap="round"/>
<line x1="591.4" y1="129" x2="600.7" y2="130" stroke="#e4e4e4" stroke-width="1.45" stroke-linecap="round"/>
<line x1="591.4" y1="129" x2="585.3" y2="120.7" stroke="#a6a6a6" stroke-width="1.45" stroke-linecap="round"/>
<line x1="585.3" y1="120.7" x2="585.3" y2="124" stroke="#e4e4e4" stroke-width="1.45" stroke-linecap="round"/>
<line x1="587.3" y1="136.2" x2="593.5" y2="144.4" stroke="#a6a6a6" stroke-width="1.45" stroke-linecap="round"/>
<line x1="576" y1="144.4" x2="584" y2="148.5" stroke="#a6a6a6" stroke-width="1.45" stroke-linecap="round"/>
<line x1="584" y1="148.5" x2="593.5" y2="144.4" stroke="#a6a6a6" stroke-width="1.45" stroke-linecap="round"/>
<line x1="593.5" y1="144.4" x2="610" y2="145.4" stroke="#a6a6a6" stroke-width="1.45" stroke-linecap="round"/>
<line x1="610" y1="145.4" x2="614.1" y2="148.5" stroke="#e4e4e4" stroke-width="1.45" stroke-linecap="round"/>
<line x1="585.3" y1="120.7" x2="599.7" y2="115.6" stroke="#a6a6a6" stroke-width="1.45" stroke-linecap="round"/>
<line x1="599.7" y1="115.6" x2="611" y2="114.6" stroke="#a6a6a6" stroke-width="1.8" stroke-linecap="round"/>
<line x1="611" y1="114.6" x2="612" y2="109.4" stroke="#e4e4e4" stroke-width="1.8" stroke-linecap="round"/>
<line x1="611" y1="114.6" x2="616.1" y2="123.8" stroke="#e4e4e4" stroke-width="1.45" stroke-linecap="round"/>
<line x1="616.1" y1="123.8" x2="617.2" y2="133.1" stroke="#a6a6a6" stroke-width="1.45" stroke-linecap="round"/>
<line x1="617.2" y1="133.1" x2="628.5" y2="135.1" stroke="#e4e4e4" stroke-width="1.45" stroke-linecap="round"/>
<line x1="617.2" y1="133.1" x2="610" y2="145.4" stroke="#a6a6a6" stroke-width="1.45" stroke-linecap="round"/>
<line x1="585.3" y1="154.7" x2="587.3" y2="162.9" stroke="#e4e4e4" stroke-width="1.45" stroke-linecap="round"/>
<line x1="560.7" y1="119" x2="563.9" y2="125.4" stroke="#d41c1c" stroke-width="1.45" stroke-linecap="round"/>
<line x1="563.9" y1="125.4" x2="567" y2="127.5" stroke="#e4e4e4" stroke-width="1.45" stroke-linecap="round"/>
<line x1="522" y1="118" x2="529" y2="118" stroke="#e4e4e4" stroke-width="1.8" stroke-linecap="round"/>
<line x1="562.2" y1="57.4" x2="567" y2="59.8" stroke="#1e3ce8" stroke-width="1.8" stroke-linecap="round"/>
<line x1="566" y1="59" x2="565.1" y2="64" stroke="#1e3ce8" stroke-width="1.8" stroke-linecap="round"/>
<line x1="565.1" y1="64" x2="562.2" y2="69.9" stroke="#a6a6a6" stroke-width="1.8" stroke-linecap="round"/>
<line x1="580" y1="58" x2="583" y2="57" stroke="#d41c1c" stroke-width="1.8" stroke-linecap="round"/>
<line x1="583" y1="57" x2="586" y2="55.6" stroke="#e4e4e4" stroke-width="1.8" stroke-linecap="round"/>
<line x1="580" y1="59.2" x2="576.5" y2="69.3" stroke="#a6a6a6" stroke-width="1.8" stroke-linecap="round"/>
<line x1="562.2" y1="69.9" x2="576.5" y2="69.3" stroke="#a6a6a6" stroke-width="1.8" stroke-linecap="round"/>
<line x1="576.5" y1="69.3" x2="584.8" y2="72.9" stroke="#a6a6a6" stroke-width="1.8" stroke-linecap="round"/>
<line x1="562.2" y1="69.9" x2="560.4" y2="80.1" stroke="#a6a6a6" stroke-width="1.8" stroke-linecap="round"/>
<line x1="560.4" y1="80.1" x2="555" y2="78.9" stroke="#a6a6a6" stroke-width="1.8" stroke-linecap="round"/>
<line x1="555" y1="72.9" x2="562.2" y2="69.9" stroke="#a6a6a6" stroke-width="1.8" stroke-linecap="round"/>
<line x1="560.4" y1="80.1" x2="565.7" y2="88.4" stroke="#a6a6a6" stroke-width="1.8" stroke-linecap="round"/>
<line x1="565.7" y1="88.4" x2="559.8" y2="89.6" stroke="#d41c1c" stroke-width="1.8" stroke-linecap="round"/>
<line x1="565.7" y1="76.5" x2="568.1" y2="84.8" stroke="#e4e4e4" stroke-width="1.8" stroke-linecap="round"/>
<line x1="584.8" y1="72.9" x2="578.9" y2="77.7" stroke="#a6a6a6" stroke-width="1.8" stroke-linecap="round"/>
<line x1="578.9" y1="77.7" x2="570.5" y2="85.4" stroke="#d41c1c" stroke-width="1.8" stroke-linecap="round"/>
<line x1="584.8" y1="72.9" x2="590.8" y2="72.9" stroke="#a6a6a6" stroke-width="1.8" stroke-linecap="round"/>
<line x1="590.8" y1="72.9" x2="596.8" y2="76.5" stroke="#a6a6a6" stroke-width="1.8" stroke-linecap="round"/>
<line x1="589.6" y1="62.2" x2="592" y2="72.9" stroke="#d41c1c" stroke-width="1.8" stroke-linecap="round"/>
<line x1="589.6" y1="55" x2="589.6" y2="62.2" stroke="#a6a6a6" stroke-width="1.8" stroke-linecap="round"/>
<line x1="594.4" y1="58.6" x2="598" y2="64.5" stroke="#a6a6a6" stroke-width="1.8" stroke-linecap="round"/>
<line x1="598" y1="64.5" x2="596.8" y2="76.5" stroke="#a6a6a6" stroke-width="1.8" stroke-linecap="round"/>
<line x1="596.8" y1="76.5" x2="604.5" y2="71.7" stroke="#a6a6a6" stroke-width="1.8" stroke-linecap="round"/>
<line x1="578.9" y1="77.7" x2="581.3" y2="83.6" stroke="#a6a6a6" stroke-width="1.8" stroke-linecap="round"/>
<line x1="581.3" y1="83.6" x2="588.4" y2="83" stroke="#a6a6a6" stroke-width="1.8" stroke-linecap="round"/>
<line x1="588.4" y1="83" x2="595.6" y2="82.4" stroke="#a6a6a6" stroke-width="1.8" stroke-linecap="round"/>
<line x1="581.3" y1="83.6" x2="580.7" y2="90.8" stroke="#a6a6a6" stroke-width="1.8" stroke-linecap="round"/>
<line x1="588.4" y1="83" x2="588.4" y2="77.7" stroke="#e4e4e4" stroke-width="1.8" stroke-linecap="round"/>
<line x1="588.4" y1="87.2" x2="584.8" y2="89.6" stroke="#e4e4e4" stroke-width="1.8" stroke-linecap="round"/>
<line x1="595.6" y1="82.4" x2="599.7" y2="90.2" stroke="#e4e4e4" stroke-width="1.8" stroke-linecap="round"/>
<line x1="596.8" y1="76.5" x2="595.6" y2="82.4" stroke="#a6a6a6" stroke-width="1.8" stroke-linecap="round"/>
<line x1="598" y1="78.9" x2="602.7" y2="80.1" stroke="#e4e4e4" stroke-width="1.8" stroke-linecap="round"/>
<line x1="567" y1="89.6" x2="572.9" y2="88.4" stroke="#a6a6a6" stroke-width="1.8" stroke-linecap="round"/>
<line x1="572.9" y1="88.4" x2="581.3" y2="92" stroke="#a6a6a6" stroke-width="1.8" stroke-linecap="round"/>
<line x1="576.5" y1="82.4" x2="577.7" y2="86" stroke="#e4e4e4" stroke-width="1.8" stroke-linecap="round"/>
<line x1="565.1" y1="64" x2="561" y2="66.5" stroke="#e4e4e4" stroke-width="1.8" stroke-linecap="round"/>
<line x1="621.7" y1="270" x2="623.8" y2="275.2" stroke="#e4e4e4" stroke-width="1.4" stroke-linecap="round"/>
<line x1="625.9" y1="272" x2="625.9" y2="278.3" stroke="#e4e4e4" stroke-width="1.4" stroke-linecap="round"/>
<line x1="622.8" y1="275.2" x2="630" y2="274.1" stroke="#e4e4e4" stroke-width="1.4" stroke-linecap="round"/>
<line x1="618" y1="265.3" x2="621.7" y2="270" stroke="#a6a6a6" stroke-width="1.4" stroke-linecap="round"/>
<line x1="550.9" y1="261.7" x2="548.3" y2="281.6" stroke="#dcd21c" stroke-width="1.4" stroke-linecap="round"/>
<line x1="543.1" y1="268.6" x2="547.4" y2="274.7" stroke="#1e3ce8" stroke-width="1.4" stroke-linecap="round"/>
<line x1="540.5" y1="262.6" x2="543.1" y2="268.6" stroke="#a6a6a6" stroke-width="1.4" stroke-linecap="round"/>
<line x1="548.3" y1="262.6" x2="550.9" y2="261.7" stroke="#e4e4e4" stroke-width="1.4" stroke-linecap="round"/>
<line x1="550.9" y1="261.7" x2="556" y2="260.9" stroke="#e4e4e4" stroke-width="1.4" stroke-linecap="round"/>
<line x1="549.1" y1="281.6" x2="561.2" y2="285" stroke="#a6a6a6" stroke-width="1.4" stroke-linecap="round"/>
<line x1="561.2" y1="285" x2="562.1" y2="291.9" stroke="#a6a6a6" stroke-width="1.4" stroke-linecap="round"/>
<line x1="562.1" y1="291.9" x2="573.3" y2="291.9" stroke="#a6a6a6" stroke-width="1.4" stroke-linecap="round"/>
<line x1="573.3" y1="291.9" x2="576.7" y2="280.7" stroke="#a6a6a6" stroke-width="1.4" stroke-linecap="round"/>
<line x1="576.7" y1="280.7" x2="571.6" y2="278.1" stroke="#a6a6a6" stroke-width="1.4" stroke-linecap="round"/>
<line x1="571.6" y1="278.1" x2="561.2" y2="285" stroke="#a6a6a6" stroke-width="1.4" stroke-linecap="round"/>
<line x1="571.6" y1="278.1" x2="575" y2="267.8" stroke="#a6a6a6" stroke-width="1.4" stroke-linecap="round"/>
<line x1="575" y1="267.8" x2="585.3" y2="266.9" stroke="#a6a6a6" stroke-width="1.4" stroke-linecap="round"/>
<line x1="585.3" y1="266.9" x2="590.5" y2="269.5" stroke="#a6a6a6" stroke-width="1.4" stroke-linecap="round"/>
<line x1="590.5" y1="269.5" x2="589.7" y2="280.7" stroke="#a6a6a6" stroke-width="1.4" stroke-linecap="round"/>
<line x1="589.7" y1="280.7" x2="576.7" y2="280.7" stroke="#a6a6a6" stroke-width="1.4" stroke-linecap="round"/>
<line x1="585.3" y1="266.9" x2="585.3" y2="259.1" stroke="#e4e4e4" stroke-width="1.4" stroke-linecap="round"/>
<line x1="575" y1="267.8" x2="570.7" y2="262.6" stroke="#e4e4e4" stroke-width="1.4" stroke-linecap="round"/>
<line x1="566" y1="273" x2="575" y2="272" stroke="#e4e4e4" stroke-width="1.4" stroke-linecap="round"/>
<line x1="590.5" y1="269.5" x2="600" y2="268.6" stroke="#a6a6a6" stroke-width="1.4" stroke-linecap="round"/>
<line x1="561.2" y1="285" x2="559.5" y2="297" stroke="#a6a6a6" stroke-width="1.4" stroke-linecap="round"/>
<line x1="573.3" y1="291.9" x2="576.7" y2="296.2" stroke="#e4e4e4" stroke-width="1.4" stroke-linecap="round"/>
<line x1="542.2" y1="285" x2="542.2" y2="292" stroke="#e4e4e4" stroke-width="1.4" stroke-linecap="round"/>
<line x1="544" y1="286.7" x2="538.8" y2="293.6" stroke="#e4e4e4" stroke-width="1.4" stroke-linecap="round"/>
<line x1="518.3" y1="208" x2="523.6" y2="213.3" stroke="#e4e4e4" stroke-width="1.4" stroke-linecap="round"/>
<line x1="519.6" y1="221.2" x2="523.6" y2="213.3" stroke="#e4e4e4" stroke-width="1.4" stroke-linecap="round"/>
<line x1="523.6" y1="213.3" x2="532.9" y2="214.6" stroke="#a6a6a6" stroke-width="1.4" stroke-linecap="round"/>
<line x1="532.9" y1="214.6" x2="538.9" y2="208" stroke="#d41c1c" stroke-width="1.4" stroke-linecap="round"/>
<line x1="526.2" y1="217.3" x2="529.5" y2="218.6" stroke="#e4e4e4" stroke-width="1.4" stroke-linecap="round"/>
<line x1="529.5" y1="218.6" x2="532.9" y2="219.9" stroke="#d41c1c" stroke-width="1.4" stroke-linecap="round"/>
<line x1="532.9" y1="214.6" x2="533.5" y2="220" stroke="#d41c1c" stroke-width="1.4" stroke-linecap="round"/>
<line x1="532.5" y1="222" x2="535.5" y2="225.2" stroke="#1e3ce8" stroke-width="1.4" stroke-linecap="round"/>
<line x1="535.5" y1="225.2" x2="528.9" y2="228.5" stroke="#e4e4e4" stroke-width="1.4" stroke-linecap="round"/>
<line x1="535.5" y1="225.2" x2="538.2" y2="223.9" stroke="#a6a6a6" stroke-width="1.4" stroke-linecap="round"/>
<line x1="538.2" y1="223.9" x2="543.5" y2="222.6" stroke="#a6a6a6" stroke-width="1.4" stroke-linecap="round"/>
<line x1="543.5" y1="222.6" x2="546.2" y2="217.3" stroke="#e4e4e4" stroke-width="1.4" stroke-linecap="round"/>
<line x1="543.5" y1="222.6" x2="548.8" y2="231.9" stroke="#a6a6a6" stroke-width="1.4" stroke-linecap="round"/>
<line x1="548.8" y1="231.9" x2="555.4" y2="231.9" stroke="#e4e4e4" stroke-width="1.4" stroke-linecap="round"/>
<line x1="550.5" y1="232.5" x2="552.5" y2="233.5" stroke="#d41c1c" stroke-width="1.4" stroke-linecap="round"/>
<line x1="548.8" y1="231.9" x2="547.5" y2="241.2" stroke="#a6a6a6" stroke-width="1.4" stroke-linecap="round"/>
<line x1="547.5" y1="241.2" x2="552" y2="237.2" stroke="#e4e4e4" stroke-width="1.4" stroke-linecap="round"/>
<line x1="547.5" y1="241.2" x2="550" y2="247" stroke="#e4e4e4" stroke-width="1.4" stroke-linecap="round"/>
<line x1="536.9" y1="223.9" x2="535.5" y2="228" stroke="#a6a6a6" stroke-width="1.4" stroke-linecap="round"/>
<line x1="535.5" y1="228" x2="534.2" y2="233.2" stroke="#d41c1c" stroke-width="1.4" stroke-linecap="round"/>
<line x1="534.2" y1="233.2" x2="536.9" y2="238.5" stroke="#d41c1c" stroke-width="1.4" stroke-linecap="round"/>
<line x1="536.9" y1="238.5" x2="542.2" y2="242.5" stroke="#a6a6a6" stroke-width="1.4" stroke-linecap="round"/>
<line x1="542.2" y1="242.5" x2="544.5" y2="242" stroke="#d41c1c" stroke-width="1.4" stroke-linecap="round"/>
<line x1="544.5" y1="242" x2="547.5" y2="241.2" stroke="#a6a6a6" stroke-width="1.4" stroke-linecap="round"/>
<line x1="542.2" y1="242.5" x2="535.5" y2="249.1" stroke="#e4e4e4" stroke-width="1.4" stroke-linecap="round"/>
<line x1="538.2" y1="245" x2="539" y2="250" stroke="#d41c1c" stroke-width="1.4" stroke-linecap="round"/>
<line x1="518.3" y1="238.5" x2="521.5" y2="238.8" stroke="#d41c1c" stroke-width="1.4" stroke-linecap="round"/>
<line x1="521.5" y1="238.8" x2="524.9" y2="239.2" stroke="#e4e4e4" stroke-width="1.4" stroke-linecap="round"/>
<line x1="518.3" y1="238.5" x2="517.6" y2="245.1" stroke="#a6a6a6" stroke-width="1.4" stroke-linecap="round"/>
<line x1="517.6" y1="245.1" x2="510.3" y2="249" stroke="#e4e4e4" stroke-width="1.4" stroke-linecap="round"/>
<line x1="519.4" y1="247" x2="524.5" y2="256.2" stroke="#a6a6a6" stroke-width="1.4" stroke-linecap="round"/>
<line x1="524.5" y1="256.2" x2="533.7" y2="253.1" stroke="#d41c1c" stroke-width="1.4" stroke-linecap="round"/>
<line x1="533.7" y1="253.1" x2="539.8" y2="252.1" stroke="#a6a6a6" stroke-width="1.4" stroke-linecap="round"/>
<line x1="539.8" y1="252.1" x2="547" y2="253.1" stroke="#e4e4e4" stroke-width="1.4" stroke-linecap="round"/>
<line x1="524.5" y1="256.2" x2="526.5" y2="266.4" stroke="#a6a6a6" stroke-width="1.4" stroke-linecap="round"/>
<line x1="526.5" y1="266.4" x2="516" y2="268" stroke="#a6a6a6" stroke-width="1.4" stroke-linecap="round"/>
<line x1="512.2" y1="268.4" x2="516" y2="268" stroke="#d41c1c" stroke-width="1.4" stroke-linecap="round"/>
<line x1="526.5" y1="266.4" x2="540.8" y2="264.3" stroke="#a6a6a6" stroke-width="1.4" stroke-linecap="round"/>
<line x1="540.8" y1="264.3" x2="543.9" y2="272.5" stroke="#a6a6a6" stroke-width="1.4" stroke-linecap="round"/>
<line x1="540.8" y1="264.3" x2="539.8" y2="253.1" stroke="#a6a6a6" stroke-width="1.4" stroke-linecap="round"/>
<line x1="528.6" y1="267.4" x2="529.6" y2="273.5" stroke="#d41c1c" stroke-width="1.4" stroke-linecap="round"/>
<line x1="526.9" y1="270" x2="529" y2="277.2" stroke="#d41c1c" stroke-width="1.4" stroke-linecap="round"/>
<line x1="529" y1="277.2" x2="536.2" y2="280.3" stroke="#e4e4e4" stroke-width="1.4" stroke-linecap="round"/>
<line x1="536.2" y1="280.3" x2="543.5" y2="287.6" stroke="#e4e4e4" stroke-width="1.4" stroke-linecap="round"/>
<line x1="543.5" y1="287.6" x2="555.9" y2="282.4" stroke="#a6a6a6" stroke-width="1.4" stroke-linecap="round"/>
<line x1="555.9" y1="282.4" x2="562.1" y2="285.5" stroke="#a6a6a6" stroke-width="1.4" stroke-linecap="round"/>
<line x1="562.1" y1="285.5" x2="568.3" y2="279.3" stroke="#a6a6a6" stroke-width="1.4" stroke-linecap="round"/>
<line x1="543.5" y1="287.6" x2="549.7" y2="301" stroke="#a6a6a6" stroke-width="1.4" stroke-linecap="round"/>
<line x1="539.5" y1="293.8" x2="543.5" y2="287.6" stroke="#e4e4e4" stroke-width="1.4" stroke-linecap="round"/>
<line x1="549.7" y1="301" x2="551.7" y2="308.3" stroke="#a6a6a6" stroke-width="1.4" stroke-linecap="round"/>
<line x1="562.1" y1="285.5" x2="561.1" y2="300" stroke="#e4e4e4" stroke-width="1.4" stroke-linecap="round"/>
<line x1="562.1" y1="291.7" x2="570.4" y2="292.8" stroke="#a6a6a6" stroke-width="1.4" stroke-linecap="round"/>
<line x1="512.5" y1="270" x2="513.5" y2="274" stroke="#e4e4e4" stroke-width="1.4" stroke-linecap="round"/>
<line x1="523.8" y1="311.4" x2="529" y2="311" stroke="#e4e4e4" stroke-width="1.4" stroke-linecap="round"/>
<line x1="529" y1="311" x2="535.2" y2="310.4" stroke="#a6a6a6" stroke-width="1.4" stroke-linecap="round"/>
<line x1="535.2" y1="310.4" x2="551.7" y2="313.5" stroke="#a6a6a6" stroke-width="1.4" stroke-linecap="round"/>
<line x1="551.7" y1="313.5" x2="560" y2="314.5" stroke="#a6a6a6" stroke-width="1.4" stroke-linecap="round"/>
<line x1="560" y1="315.5" x2="564.2" y2="316.6" stroke="#1e3ce8" stroke-width="1.4" stroke-linecap="round"/>
<line x1="533.1" y1="314.5" x2="553.8" y2="315.5" stroke="#a6a6a6" stroke-width="1.4" stroke-linecap="round"/>
<line x1="553.8" y1="315.5" x2="562.1" y2="316.6" stroke="#a6a6a6" stroke-width="1.4" stroke-linecap="round"/>
<line x1="544.5" y1="318.6" x2="551.7" y2="324.9" stroke="#a6a6a6" stroke-width="1.4" stroke-linecap="round"/>
<line x1="551.7" y1="324.9" x2="568.3" y2="323.8" stroke="#a6a6a6" stroke-width="1.4" stroke-linecap="round"/>
<line x1="543.5" y1="317.6" x2="547.6" y2="318.6" stroke="#e4e4e4" stroke-width="1.4" stroke-linecap="round"/>
<line x1="547.6" y1="326.9" x2="544.5" y2="331.1" stroke="#e4e4e4" stroke-width="1.4" stroke-linecap="round"/>
<line x1="564.2" y1="330" x2="568.3" y2="328" stroke="#e4e4e4" stroke-width="1.4" stroke-linecap="round"/>
<line x1="566.2" y1="320.7" x2="570.4" y2="321.7" stroke="#1e3ce8" stroke-width="1.4" stroke-linecap="round"/>
<line x1="541" y1="308" x2="550" y2="308.5" stroke="#e4e4e4" stroke-width="1.4" stroke-linecap="round"/>
<line x1="603.7" y1="256.2" x2="612.8" y2="251.1" stroke="#a6a6a6" stroke-width="1.4" stroke-linecap="round"/>
<line x1="612.8" y1="251.1" x2="618" y2="254.1" stroke="#a6a6a6" stroke-width="1.4" stroke-linecap="round"/>
<line x1="618" y1="254.1" x2="618" y2="265.3" stroke="#a6a6a6" stroke-width="1.4" stroke-linecap="round"/>
<line x1="618" y1="265.3" x2="609.8" y2="269.4" stroke="#a6a6a6" stroke-width="1.4" stroke-linecap="round"/>
<line x1="609.8" y1="269.4" x2="602.6" y2="266.4" stroke="#a6a6a6" stroke-width="1.4" stroke-linecap="round"/>
<line x1="602.6" y1="266.4" x2="603.7" y2="256.2" stroke="#a6a6a6" stroke-width="1.4" stroke-linecap="round"/>
<line x1="612.8" y1="251.1" x2="612.8" y2="243.9" stroke="#e4e4e4" stroke-width="1.4" stroke-linecap="round"/>
<line x1="611.8" y1="250" x2="614.9" y2="252" stroke="#d41c1c" stroke-width="1.4" stroke-linecap="round"/>
<line x1="618" y1="254.1" x2="625.1" y2="252.1" stroke="#e4e4e4" stroke-width="1.4" stroke-linecap="round"/>
<line x1="603.7" y1="256.2" x2="597.5" y2="253.1" stroke="#e4e4e4" stroke-width="1.4" stroke-linecap="round"/>
<line x1="602.6" y1="266.4" x2="591.4" y2="269.4" stroke="#a6a6a6" stroke-width="1.4" stroke-linecap="round"/>
<line x1="591.4" y1="269.4" x2="588.4" y2="265.3" stroke="#e4e4e4" stroke-width="1.4" stroke-linecap="round"/>
<line x1="586.3" y1="259.2" x2="586.3" y2="267.4" stroke="#a6a6a6" stroke-width="1.4" stroke-linecap="round"/>
<line x1="586.3" y1="267.4" x2="574.1" y2="268.4" stroke="#a6a6a6" stroke-width="1.4" stroke-linecap="round"/>
<line x1="618" y1="265.3" x2="625.1" y2="269.4" stroke="#a6a6a6" stroke-width="1.4" stroke-linecap="round"/>
<line x1="625.1" y1="269.4" x2="633.3" y2="268.4" stroke="#e4e4e4" stroke-width="1.4" stroke-linecap="round"/>
<line x1="623" y1="263.3" x2="626.1" y2="265.3" stroke="#e4e4e4" stroke-width="1.4" stroke-linecap="round"/>
<line x1="570" y1="262.3" x2="574.1" y2="268.4" stroke="#a6a6a6" stroke-width="1.4" stroke-linecap="round"/>
<line x1="568.3" y1="279.3" x2="576.2" y2="281.4" stroke="#a6a6a6" stroke-width="1.4" stroke-linecap="round"/>
<line x1="576.2" y1="281.4" x2="590.7" y2="279.3" stroke="#a6a6a6" stroke-width="1.4" stroke-linecap="round"/>
<line x1="590.7" y1="279.3" x2="593.8" y2="283.5" stroke="#a6a6a6" stroke-width="1.4" stroke-linecap="round"/>
<line x1="593.8" y1="283.5" x2="606.2" y2="281.4" stroke="#a6a6a6" stroke-width="1.4" stroke-linecap="round"/>
<line x1="606.2" y1="281.4" x2="607.3" y2="276.2" stroke="#a6a6a6" stroke-width="1.4" stroke-linecap="round"/>
<line x1="574.1" y1="268.4" x2="576.2" y2="281.4" stroke="#a6a6a6" stroke-width="1.4" stroke-linecap="round"/>
<line x1="590.7" y1="270" x2="590.7" y2="279.3" stroke="#a6a6a6" stroke-width="1.4" stroke-linecap="round"/>
<line x1="606.2" y1="270" x2="606.2" y2="281.4" stroke="#a6a6a6" stroke-width="1.4" stroke-linecap="round"/>
<line x1="576.2" y1="281.4" x2="573.1" y2="292.8" stroke="#a6a6a6" stroke-width="1.4" stroke-linecap="round"/>
<line x1="573.1" y1="292.8" x2="576.2" y2="297" stroke="#e4e4e4" stroke-width="1.4" stroke-linecap="round"/>
<line x1="590.7" y1="279.3" x2="589.7" y2="292.8" stroke="#a6a6a6" stroke-width="1.4" stroke-linecap="round"/>
<line x1="589.7" y1="292.8" x2="590.7" y2="297" stroke="#a6a6a6" stroke-width="1.4" stroke-linecap="round"/>
<line x1="582.4" y1="293.8" x2="588.6" y2="295.9" stroke="#e4e4e4" stroke-width="1.4" stroke-linecap="round"/>
<line x1="592.8" y1="289.7" x2="599" y2="290.7" stroke="#e4e4e4" stroke-width="1.4" stroke-linecap="round"/>
<line x1="606.2" y1="281.4" x2="609.3" y2="285.5" stroke="#e4e4e4" stroke-width="1.4" stroke-linecap="round"/>
<line x1="590.7" y1="297" x2="589.7" y2="308.3" stroke="#a6a6a6" stroke-width="1.4" stroke-linecap="round"/>
<line x1="589.7" y1="308.3" x2="582.4" y2="312.4" stroke="#a6a6a6" stroke-width="1.4" stroke-linecap="round"/>
<line x1="582.4" y1="312.4" x2="574.1" y2="314.5" stroke="#a6a6a6" stroke-width="1.4" stroke-linecap="round"/>
<line x1="574.1" y1="314.5" x2="564.2" y2="316.6" stroke="#a6a6a6" stroke-width="1.4" stroke-linecap="round"/>
<line x1="589.7" y1="308.3" x2="596.9" y2="312.4" stroke="#a6a6a6" stroke-width="1.4" stroke-linecap="round"/>
<line x1="596.9" y1="312.4" x2="604.2" y2="310.4" stroke="#a6a6a6" stroke-width="1.4" stroke-linecap="round"/>
<line x1="584.5" y1="314.5" x2="590.7" y2="315.5" stroke="#1e3ce8" stroke-width="1.4" stroke-linecap="round"/>
<line x1="590.7" y1="318.6" x2="596.9" y2="319.7" stroke="#1e3ce8" stroke-width="1.4" stroke-linecap="round"/>
<line x1="570.4" y1="321.7" x2="574.1" y2="319.7" stroke="#a6a6a6" stroke-width="1.4" stroke-linecap="round"/>
<line x1="574.1" y1="319.7" x2="586.6" y2="322.8" stroke="#a6a6a6" stroke-width="1.4" stroke-linecap="round"/>
<line x1="586.6" y1="322.8" x2="603.1" y2="321.7" stroke="#a6a6a6" stroke-width="1.4" stroke-linecap="round"/>
<line x1="603.1" y1="321.7" x2="619.7" y2="323.8" stroke="#a6a6a6" stroke-width="1.4" stroke-linecap="round"/>
<line x1="596.9" y1="315.5" x2="605.2" y2="315.5" stroke="#a6a6a6" stroke-width="1.4" stroke-linecap="round"/>
<line x1="605.2" y1="315.5" x2="615.5" y2="313.5" stroke="#a6a6a6" stroke-width="1.4" stroke-linecap="round"/>
<line x1="615.5" y1="313.5" x2="619.7" y2="315.5" stroke="#a6a6a6" stroke-width="1.4" stroke-linecap="round"/>
<line x1="615.5" y1="308.3" x2="615.5" y2="313.5" stroke="#e4e4e4" stroke-width="1.4" stroke-linecap="round"/>
<line x1="619.7" y1="315.5" x2="624.9" y2="318.6" stroke="#d41c1c" stroke-width="1.4" stroke-linecap="round"/>
<line x1="619.7" y1="323.8" x2="619.7" y2="330" stroke="#d41c1c" stroke-width="1.4" stroke-linecap="round"/>
<line x1="619.7" y1="330" x2="623.8" y2="329" stroke="#d41c1c" stroke-width="1.4" stroke-linecap="round"/>
<line x1="623.8" y1="329" x2="630" y2="329" stroke="#e4e4e4" stroke-width="1.4" stroke-linecap="round"/>
<line x1="606.2" y1="320.7" x2="609.3" y2="330" stroke="#a6a6a6" stroke-width="1.4" stroke-linecap="round"/>
<line x1="609.3" y1="330" x2="616.6" y2="334.2" stroke="#d41c1c" stroke-width="1.4" stroke-linecap="round"/>
<line x1="606.2" y1="337.3" x2="608" y2="333" stroke="#d41c1c" stroke-width="1.4" stroke-linecap="round"/>
<line x1="593.8" y1="326.9" x2="599" y2="324.9" stroke="#e4e4e4" stroke-width="1.4" stroke-linecap="round"/>
<line x1="570" y1="325.9" x2="578.3" y2="332.1" stroke="#e4e4e4" stroke-width="1.4" stroke-linecap="round"/>
<line x1="611.4" y1="322.8" x2="614.5" y2="323.8" stroke="#e4e4e4" stroke-width="1.4" stroke-linecap="round"/>
<rect x="524" y="82" width="31.5" height="22.2" rx="4" fill="none" stroke="#f2e51c" stroke-width="2" stroke-dasharray="4.5,2.2"/>
<rect x="565.4" y="97.5" width="34.2" height="18.5" rx="4" fill="none" stroke="#f2e51c" stroke-width="2" stroke-dasharray="4.5,2.2"/>
<line x1="572" y1="123.8" x2="555" y2="143.5" stroke="#f4aa14" stroke-width="2" stroke-dasharray="3,1.8"/>
<path d="M568,123.7 L574,121.3 L573.4,127.9 M553.7,140.1 L553.1,145.8 L559.1,144.6" fill="none" stroke="#f4aa14" stroke-width="1.9" stroke-linejoin="round" stroke-linecap="round"/>
<text x="567.2" y="187.2" font-size="10.8" text-anchor="middle" fill="#222" font-weight="normal" >COS-BA/Ce6 (Front view)</text>
<text x="568.2" y="360.3" font-size="10.7" text-anchor="middle" fill="#222" font-weight="normal" >COS-BA/Ce6 (Side view)</text>
<text x="571.9" y="164.0" font-size="10.5" text-anchor="middle" fill="#111" font-weight="bold" ><tspan font-style="italic">π</tspan> –<tspan font-style="italic">π</tspan> stacking with Ce6</text>
<text x="9" y="206.6" font-size="12.4" text-anchor="start" fill="#111" font-weight="bold" >D</text>
<path d="M39.6,195 V344.2 H241.20" fill="none" stroke="#555" stroke-width="1.1"/>
<line x1="36.6" y1="335.30" x2="39.6" y2="335.30" stroke="#555" stroke-width="1"/>
<text x="34.8" y="338.6" font-size="9" text-anchor="end" fill="#222" font-weight="normal" >0.0</text>
<line x1="36.6" y1="298.02" x2="39.6" y2="298.02" stroke="#555" stroke-width="1"/>
<text x="34.8" y="301.32" font-size="9" text-anchor="end" fill="#222" font-weight="normal" >0.2</text>
<line x1="36.6" y1="260.74" x2="39.6" y2="260.74" stroke="#555" stroke-width="1"/>
<text x="34.8" y="264.04" font-size="9" text-anchor="end" fill="#222" font-weight="normal" >0.4</text>
<line x1="36.6" y1="223.46" x2="39.6" y2="223.46" stroke="#555" stroke-width="1"/>
<text x="34.8" y="226.76000000000002" font-size="9" text-anchor="end" fill="#222" font-weight="normal" >0.6</text>
<line x1="37.800000000000004" y1="316.66" x2="39.6" y2="316.66" stroke="#555" stroke-width="1"/>
<line x1="37.800000000000004" y1="279.38" x2="39.6" y2="279.38" stroke="#555" stroke-width="1"/>
<line x1="37.800000000000004" y1="242.10" x2="39.6" y2="242.10" stroke="#555" stroke-width="1"/>
<line x1="37.800000000000004" y1="204.82" x2="39.6" y2="204.82" stroke="#555" stroke-width="1"/>
<line x1="39.60" y1="344.2" x2="39.60" y2="347.2" stroke="#555" stroke-width="1"/>
<text x="39.6" y="357.5" font-size="9" text-anchor="middle" fill="#222" font-weight="normal" >300</text>
<line x1="106.80" y1="344.2" x2="106.80" y2="347.2" stroke="#555" stroke-width="1"/>
<text x="106.80000000000001" y="357.5" font-size="9" text-anchor="middle" fill="#222" font-weight="normal" >400</text>
<line x1="174.00" y1="344.2" x2="174.00" y2="347.2" stroke="#555" stroke-width="1"/>
<text x="174.0" y="357.5" font-size="9" text-anchor="middle" fill="#222" font-weight="normal" >500</text>
<line x1="241.20" y1="344.2" x2="241.20" y2="347.2" stroke="#555" stroke-width="1"/>
<text x="241.20000000000002" y="357.5" font-size="9" text-anchor="middle" fill="#222" font-weight="normal" >600</text>
<line x1="73.20" y1="344.2" x2="73.20" y2="346.0" stroke="#555" stroke-width="1"/>
<line x1="140.40" y1="344.2" x2="140.40" y2="346.0" stroke="#555" stroke-width="1"/>
<line x1="207.60" y1="344.2" x2="207.60" y2="346.0" stroke="#555" stroke-width="1"/>
<text x="140.1" y="369.4" font-size="10.6" text-anchor="middle" fill="#222" font-weight="normal" >Wavelength (nm)</text>
<text x="0" y="0" font-size="10.6" text-anchor="middle" fill="#222" font-weight="normal" transform="translate(14.6,275.2) rotate(-90)">Oscillator strength</text>
<line x1="66.1" y1="344.2" x2="66.1" y2="310" stroke="#333" stroke-width="1"/>
<line x1="70.1" y1="344.2" x2="70.1" y2="246.2" stroke="#555" stroke-width="1.2"/>
<line x1="74.4" y1="344.2" x2="74.4" y2="335.2" stroke="#ee3030" stroke-width="1"/>
<line x1="79.5" y1="344.2" x2="79.5" y2="335.2" stroke="#ee3030" stroke-width="1"/>
<line x1="87" y1="344.2" x2="87" y2="320" stroke="#333" stroke-width="1"/>
<line x1="89.3" y1="344.2" x2="89.3" y2="211.1" stroke="#333" stroke-width="1"/>
<line x1="90.4" y1="344.2" x2="90.4" y2="291.5" stroke="#ee3030" stroke-width="1"/>
<line x1="90.9" y1="344.2" x2="90.9" y2="301.6" stroke="#900" stroke-width="1"/>
<line x1="91.9" y1="344.2" x2="91.9" y2="247" stroke="#f06060" stroke-width="1.2"/>
<line x1="91.4" y1="344.2" x2="91.4" y2="316.8" stroke="#d00" stroke-width="1"/>
<line x1="99" y1="344.2" x2="99" y2="259.2" stroke="#555" stroke-width="1.2"/>
<line x1="100.5" y1="344.2" x2="100.5" y2="270.1" stroke="#ee3030" stroke-width="1"/>
<line x1="123.4" y1="344.2" x2="123.4" y2="335.2" stroke="#333" stroke-width="1"/>
<line x1="125.6" y1="344.2" x2="125.6" y2="335.2" stroke="#ee3030" stroke-width="1"/>
<line x1="191.5" y1="344.2" x2="191.5" y2="330.3" stroke="#ee3030" stroke-width="1"/>
<line x1="227.4" y1="344.2" x2="227.4" y2="316" stroke="#333" stroke-width="1"/>
<line x1="228.9" y1="344.2" x2="228.9" y2="316" stroke="#ee3030" stroke-width="1"/>
<line x1="156" y1="206" x2="174.3" y2="206" stroke="#333" stroke-width="1"/>
<line x1="156" y1="215.9" x2="174.3" y2="215.9" stroke="#f05a5a" stroke-width="1"/>
<text x="175.8" y="209.4" font-size="8.6" text-anchor="start" fill="#222" font-weight="normal" >Ce6</text>
<text x="175.8" y="219.4" font-size="8.6" text-anchor="start" fill="#222" font-weight="normal" >COS-BA/Ce6</text>
<text x="175.8" y="229.4" font-size="8.6" text-anchor="start" fill="#222" font-weight="normal" >Single molecule</text>
<line x1="121.5" y1="303.4" x2="226.9" y2="303.4" stroke="#444" stroke-width="0.9"/>
<line x1="121.5" y1="303.4" x2="121.5" y2="301.5" stroke="#444" stroke-width="0.8"/>
<line x1="174.2" y1="303.4" x2="174.2" y2="301.5" stroke="#444" stroke-width="0.8"/>
<line x1="226.9" y1="303.4" x2="226.9" y2="301.5" stroke="#444" stroke-width="0.8"/>
<line x1="147.85" y1="303.4" x2="147.85" y2="302.3" stroke="#444" stroke-width="0.8"/>
<line x1="200.55" y1="303.4" x2="200.55" y2="302.3" stroke="#444" stroke-width="0.8"/>
<text x="121.5" y="311" font-size="6.1" text-anchor="middle" fill="#222" font-weight="normal" >577.5</text>
<text x="174.2" y="311" font-size="6.1" text-anchor="middle" fill="#222" font-weight="normal" >580.0</text>
<text x="226.9" y="311" font-size="6.1" text-anchor="middle" fill="#222" font-weight="normal" >582.5</text>
<line x1="159.3" y1="244.5" x2="159.3" y2="303.4" stroke="#333" stroke-width="0.9"/>
<line x1="200.3" y1="249.2" x2="200.3" y2="303.4" stroke="#ee4040" stroke-width="0.9"/>
<text x="126.7" y="270" font-size="9.3" text-anchor="start" fill="#222" font-weight="normal" >579.30</text>
<text x="206.7" y="270" font-size="9.3" text-anchor="start" fill="#222" font-weight="normal" >581.24</text>
<text x="244.8" y="206.6" font-size="12.1" text-anchor="start" fill="#111" font-weight="normal" >E</text>
<path d="M285.4,199.6 V346.5 H485.5" fill="none" stroke="#555" stroke-width="1.1"/>
<line x1="334.7" y1="346.5" x2="334.7" y2="349.5" stroke="#555" stroke-width="1"/>
<line x1="422.3" y1="346.5" x2="422.3" y2="349.5" stroke="#555" stroke-width="1"/>
<text x="334.7" y="358.8" font-size="10.7" text-anchor="middle" fill="#3d86cc" font-weight="normal" >Ce6</text>
<text x="424.2" y="358.8" font-size="10.7" text-anchor="middle" fill="#4fb04f" font-weight="normal" >COS-BA/Ce6</text>
<text x="0" y="0" font-size="10.9" text-anchor="middle" fill="#222" font-weight="normal" transform="translate(276.2,267.7) rotate(-90)">Energy (eV)</text>
<line x1="306.5" y1="219.1" x2="324.4" y2="219.1" stroke="#3d86cc" stroke-width="1.7"/>
<line x1="335.9" y1="262.3" x2="353.7" y2="262.3" stroke="#3d86cc" stroke-width="1.7"/>
<line x1="305.4" y1="292" x2="353.7" y2="292" stroke="#3d86cc" stroke-width="1.7"/>
<line x1="313.1" y1="220" x2="313.1" y2="291" stroke="#5a9ad8" stroke-width="1.5" stroke-dasharray="1.5,1.5"/>
<line x1="344.6" y1="263" x2="344.6" y2="291" stroke="#5a9ad8" stroke-width="1.5" stroke-dasharray="1.5,1.5"/>
<line x1="324" y1="222" x2="324" y2="260" stroke="#f04848" stroke-width="1.5" stroke-dasharray="1.5,1.5"/>
<line x1="325" y1="262.3" x2="335" y2="262.3" stroke="#f04848" stroke-width="1.5" stroke-dasharray="1.5,1.5"/>
<path d="M320.2,225.8 L324,221 L327.8,225.8" fill="none" stroke="#f04848" stroke-width="1.7"/>
<path d="M320.2,256.4 L324,261.2 L327.8,256.4" fill="none" stroke="#f04848" stroke-width="1.7"/>
<text x="311.2" y="214.5" font-size="9" text-anchor="start" fill="#222" font-weight="normal" >S<tspan font-size="6" dy="2">1</tspan></text>
<text x="342.2" y="259.3" font-size="9" text-anchor="start" fill="#222" font-weight="normal" >T<tspan font-size="6" dy="2">1</tspan></text>
<text x="325.5" y="290.2" font-size="9" text-anchor="start" fill="#222" font-weight="normal" >S<tspan font-size="6" dy="2">0</tspan></text>
<text x="0" y="0" font-size="9" text-anchor="middle" fill="#222" font-weight="normal" transform="translate(310.5,259.5) rotate(-90)">2.1402</text>
<text x="0" y="0" font-size="9" text-anchor="middle" fill="#222" font-weight="normal" transform="translate(353.4,277) rotate(-90)">0.9401</text>
<defs><linearGradient id="gI1" x1="0" y1="0" x2="1" y2="1"><stop offset="0" stop-color="#e4ecf2"/><stop offset="1" stop-color="#9fb4c6"/></linearGradient><linearGradient id="gI2" x1="0" y1="0" x2="1" y2="1"><stop offset="0" stop-color="#e4f0de"/><stop offset="1" stop-color="#9cc494"/></linearGradient></defs>
<path d="M328.7,220 Q340,222 342,238 L339,238 L344,246 L347.5,237 L344.5,237.5 Q343,219 328.7,218 Z" fill="url(#gI1)"/>
<path d="M421.6,223.8 Q433,226 435,238 L432,238 L437.5,246 L441,237 L438,237.5 Q436,222 421.6,222 Z" fill="url(#gI2)"/>
<text x="0" y="0" font-size="9.6" text-anchor="middle" fill="#f58a3a" font-weight="bold" transform="translate(344.3,226.3) rotate(51) translate(0,3.4)">ISC</text>
<text x="0" y="0" font-size="9.6" text-anchor="middle" fill="#6a2c8c" font-weight="bold" transform="translate(343.6,225.8) rotate(51) translate(0,3.4)">ISC</text>
<text x="0" y="0" font-size="9.6" text-anchor="middle" fill="#f58a3a" font-weight="bold" transform="translate(435.0,227.6) rotate(51) translate(0,3.4)">ISC</text>
<text x="0" y="0" font-size="9.6" text-anchor="middle" fill="#6a2c8c" font-weight="bold" transform="translate(434.3,227.1) rotate(51) translate(0,3.4)">ISC</text>
<text x="353.4" y="240" font-size="9" text-anchor="start" fill="#222" font-weight="normal" >Δ<tspan font-style="italic">E</tspan><tspan font-size="6.5" dy="2">ST</tspan><tspan dy="-2">1.2001</tspan></text>
<text x="443" y="240.6" font-size="9" text-anchor="start" fill="#222" font-weight="normal" >Δ<tspan font-style="italic">E</tspan><tspan font-size="6.5" dy="2">ST</tspan><tspan dy="-2">1.189</tspan></text>
<line x1="398.2" y1="224.3" x2="416.2" y2="224.3" stroke="#4fb04f" stroke-width="1.7"/>
<line x1="428.4" y1="260.2" x2="445.9" y2="260.2" stroke="#4fb04f" stroke-width="1.7"/>
<line x1="397.9" y1="292" x2="445.9" y2="292" stroke="#4fb04f" stroke-width="1.7"/>
<line x1="405" y1="225" x2="405" y2="291" stroke="#6cc06a" stroke-width="1.5" stroke-dasharray="1.5,1.5"/>
<line x1="436.1" y1="261" x2="436.1" y2="291" stroke="#5a9ad8" stroke-width="1.5" stroke-dasharray="1.5,1.5"/>
<line x1="416.3" y1="227" x2="416.3" y2="258" stroke="#f04848" stroke-width="1.5" stroke-dasharray="1.5,1.5"/>
<line x1="417" y1="260.2" x2="428" y2="260.2" stroke="#f04848" stroke-width="1.5" stroke-dasharray="1.5,1.5"/>
<path d="M412.5,230.4 L416.3,225.6 L420.1,230.4" fill="none" stroke="#f04848" stroke-width="1.7"/>
<path d="M412.5,254.8 L416.3,259.6 L420.1,254.8" fill="none" stroke="#f04848" stroke-width="1.7"/>
<text x="401.9" y="221.5" font-size="9" text-anchor="start" fill="#222" font-weight="normal" >S<tspan font-size="6" dy="2">1</tspan></text>
<text x="434" y="257.5" font-size="9" text-anchor="start" fill="#222" font-weight="normal" >T<tspan font-size="6" dy="2">1</tspan></text>
<text x="418" y="290.2" font-size="9" text-anchor="start" fill="#222" font-weight="normal" >S<tspan font-size="6" dy="2">0</tspan></text>
<text x="0" y="0" font-size="9" text-anchor="middle" fill="#222" font-weight="normal" transform="translate(403,258) rotate(-90)">2.1331</text>
<text x="0" y="0" font-size="9" text-anchor="middle" fill="#222" font-weight="normal" transform="translate(446.6,275.8) rotate(-90)">0.9439</text>
<defs><linearGradient id="gP" gradientUnits="userSpaceOnUse" x1="0" y1="261" x2="0" y2="290"><stop offset="0" stop-color="#9a6cc8"/><stop offset="0.5" stop-color="#e6dcf0"/><stop offset="1" stop-color="#9a6cc8"/></linearGradient></defs>
<path d="M446.6,260.8 C460,265 460,285 447.8,289.3" fill="none" stroke="url(#gP)" stroke-width="2.4"/>
<path d="M466.3,262.2 C453,266.5 453,285.5 467,289.5" fill="none" stroke="url(#gP)" stroke-width="2.4"/>
<path d="M445.3,291.2 L451,290.8 L447.4,285.6 Z" fill="#9a6cc8"/>
<path d="M468.8,260.4 L466.6,265.8 L463,260.4 Z" fill="#9a6cc8"/>
<text x="470.6" y="268.8" font-size="9" text-anchor="start" fill="#222" font-weight="normal" ><tspan font-size="6.5" dy="-3.2">1</tspan><tspan dy="3.2">O</tspan><tspan font-size="6.2" dy="2.4">2</tspan></text>
<text x="470.6" y="293.2" font-size="9" text-anchor="start" fill="#222" font-weight="normal" ><tspan font-size="6.5" dy="-3.2">3</tspan><tspan dy="3.2">O</tspan><tspan font-size="6.2" dy="2.4">2</tspan></text>
<text x="304.5" y="309.3" font-size="9.1" text-anchor="start" fill="#222" font-weight="normal" >(1/Δ<tspan font-style="italic">E</tspan><tspan font-size="5.8" dy="2.4">ST</tspan><tspan dy="-2.4">) </tspan><tspan font-size="6" dy="-3.2">2</tspan><tspan dy="3.2" dx="3">0.694</tspan></text>
<text x="397.6" y="309.3" font-size="9.1" text-anchor="start" fill="#222" font-weight="normal" >(1/Δ<tspan font-style="italic">E</tspan><tspan font-size="5.8" dy="2.4">ST</tspan><tspan dy="-2.4">) </tspan><tspan font-size="6" dy="-3.2">2</tspan><tspan dy="3.2" dx="3">0.707</tspan></text>
<text x="295.3" y="331" font-size="9.1" text-anchor="start" fill="#222" font-weight="normal" >K<tspan font-size="5.8" dy="2.4">ISC</tspan><tspan dy="-2.4" dx="1"> ∝ </tspan><tspan dx="1">(1/Δ</tspan><tspan font-style="italic">E</tspan><tspan font-size="5.8" dy="2.4">ST</tspan><tspan dy="-2.4">) </tspan><tspan font-size="6" dy="-3.2">2</tspan></text>
<line x1="367" y1="327.3" x2="378" y2="327.3" stroke="#e83030" stroke-width="1"/>
<path d="M377,325.3 L381,327.3 L377,329.3 Z" fill="#e83030"/>
<text x="380.8" y="331" font-size="9.2" text-anchor="start" fill="#222" font-weight="normal" >Increasing <tspan font-size="6" dy="-3.2">1</tspan><tspan dy="3.2">O</tspan><tspan font-size="6" dy="2.4">2</tspan><tspan dy="-2.4"> generation</tspan></text>
</svg></body></html>
